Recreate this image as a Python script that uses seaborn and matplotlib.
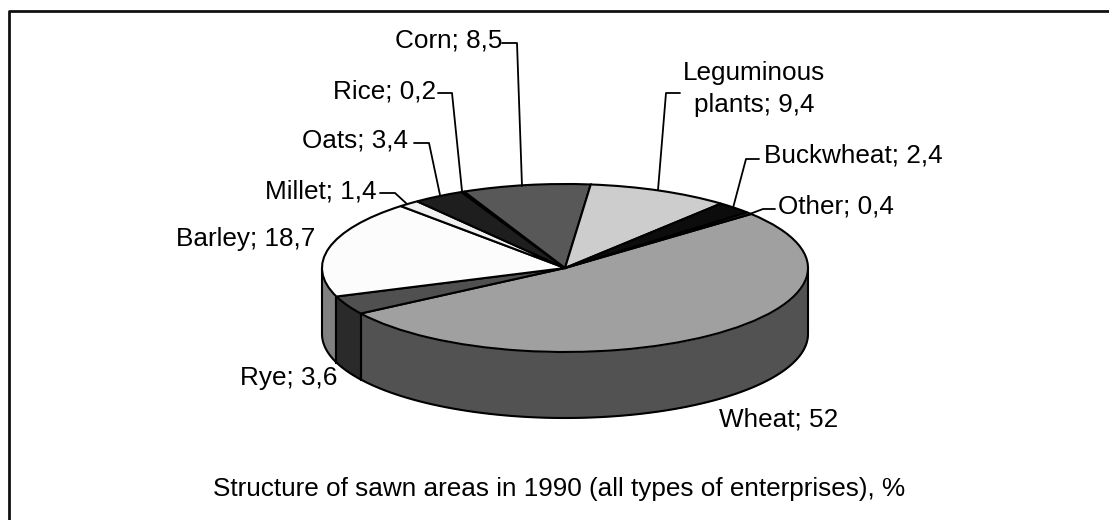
import numpy as np
import seaborn as sns
import matplotlib.pyplot as plt

names = ["Wheat", "Rye", "Barley", "Millet", "Oats", "Rice", "Corn",
         "Leguminous\nplants", "Buckwheat", "Other"]
values = [52, 3.6, 18.7, 1.4, 3.4, 0.2, 8.5, 9.4, 2.4, 0.4]
value_labels = ["52", "3,6", "18,7", "1,4", "3,4", "0,2", "8,5", "9,4", "2,4", "0,4"]
top_colors = ["#a0a0a0", "#505050", "#fcfcfc", "#f0f0f0", "#1e1e1e",
              "#2a2a2a", "#585858", "#cdcdcd", "#0c0c0c", "#303030"]
side_colors = ["#525252", "#2a2a2a", "#808080", "#808080", "#101010",
               "#101010", "#303030", "#686868", "#060606", "#181818"]
title = "Structure of sawn areas in 1990 (all types of enterprises), %"

W, H = 1109, 520
cx, cy, rx, ry, depth = 565, 268, 243, 84, 66
start_angle = 40
font_size = 18.8

sns.set_theme(style="white")
plt.rcParams['font.family'] = ['Liberation Sans', 'DejaVu Sans']

fig = plt.figure(figsize=(W / 100, H / 100), dpi=100)

# axes spans the pie only, so the pie can be squashed to an ellipse
ax = fig.add_axes([0, 0, 1, 1])
wedges, _ = ax.pie(values, colors=top_colors, startangle=start_angle, counterclock=False,
                   radius=1, center=(0, 0), wedgeprops=dict(edgecolor="black", linewidth=1.5, zorder=3))
ax.set_aspect("auto")
ax.set_xlim(-cx / rx, (W - cx) / rx)
ax.set_ylim(-(H - cy) / ry, cy / ry)

# side wall, only the part of each slice facing front
d = depth / ry
for w, c in zip(wedges, side_colors):
    a1, a2 = np.radians(w.theta1), np.radians(w.theta2)
    # keep the piece of the arc in the lower half of the ellipse
    for lo, hi in [(np.pi, 2 * np.pi), (-np.pi, 0)]:
        t1, t2 = max(a1, lo), min(a2, hi)
        if t2 <= t1:
            continue
        t = np.linspace(t1, t2, 80)
        x = np.cos(t)
        y = np.sin(t)
        ax.fill_between(x, y, y - d, color=c, zorder=1, lw=0)
        ax.plot(x, y - d, color="black", lw=1.5, zorder=2)
        ax.plot([x[0], x[0]], [y[0], y[0] - d], color="black", lw=1.5, zorder=2)
        ax.plot([x[-1], x[-1]], [y[-1], y[-1] - d], color="black", lw=1.5, zorder=2)

ax.axis("off")
ax.set_frame_on(False)


# pixel helpers for the annotation overlay
def px(x, y):
    return x / W, 1 - y / H


text_pos = {
    "Wheat": (719, 419, "left"), "Rye": (240, 378, "left"), "Barley": (176, 239, "left"),
    "Millet": (265, 191, "left"), "Oats": (302, 141, "left"), "Rice": (333, 91, "left"),
    "Corn": (395, 41, "left"), "Leguminous\nplants": (754, 89, "center"),
    "Buckwheat": (764, 156, "left"), "Other": (778, 207, "left"),
}
for n, v in zip(names, value_labels):
    x, y, ha = text_pos[n]
    x, y = px(x, y)
    fig.text(x, y, f"{n}; {v}", ha=ha, va="center", fontsize=font_size, color="black", linespacing=1.45)

leaders = [
    [(502, 43), (517, 43), (522, 186)],
    [(438, 93), (452, 93), (462, 191)],
    [(414, 143), (429, 143), (440, 195)],
    [(380, 193), (395, 193), (407, 204)],
    [(759, 159), (746, 159), (733, 208)],
    [(775, 209), (763, 209), (747, 215)],
    [(680, 93), (666, 93), (658, 190)],
]
for pts in leaders:
    xs, ys = zip(*[px(*p) for p in pts])
    fig.add_artist(plt.Line2D(xs, ys, color="black", lw=1.3))

fig.text(*px(559, 489), title, ha="center", va="center", fontsize=font_size, color="black")

# frame, top and left only
fig.add_artist(plt.Line2D(*zip(px(8.5, H), px(8.5, 11), px(W, 11)), color="#111111", lw=2))

plt.savefig("out.png", dpi=100, facecolor="white")
